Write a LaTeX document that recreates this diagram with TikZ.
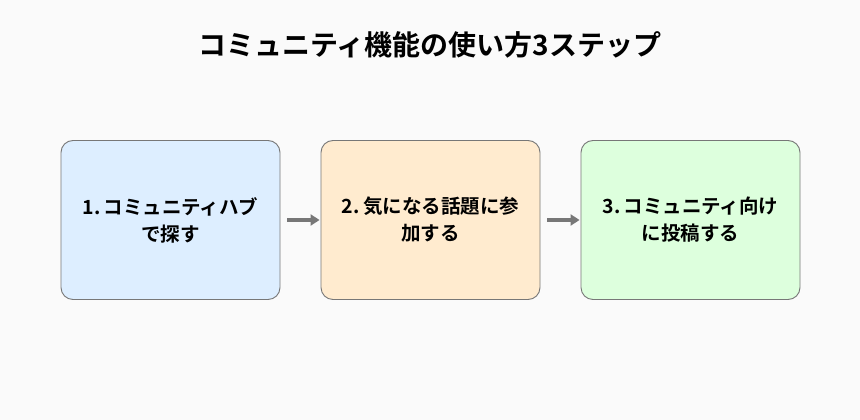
\documentclass[tikz,border=0pt]{standalone}
\usepackage{fontspec}
\setmainfont{Noto Sans CJK JP}[BoldFont={* Bold}]
\usetikzlibrary{arrows.meta}
\definecolor{bg}{HTML}{FAFAFA}
\definecolor{fa}{HTML}{DDEEFF}
\definecolor{fb}{HTML}{FFEBCF}
\definecolor{fc}{HTML}{DDFFDD}
\definecolor{bd}{HTML}{777777}
\begin{document}
\begin{tikzpicture}[x=1pt,y=1pt,
  box/.style={draw=bd,line width=0.9pt,rounded corners=12pt,minimum width=219pt,minimum height=159pt,align=center,font=\bfseries\fontsize{19.5}{27}\selectfont,text width=205pt},
  arr/.style={-{Triangle[length=9pt,width=11pt]},draw=bd,line width=3.5pt}]
\fill[bg] (0,0) rectangle (860,420);
\node[font=\bfseries\fontsize{28}{32}\selectfont] (t) at (430,375) {コミュニティ機能の使い方3ステップ};
\node[box,fill=fa] (a) at (170.5,200) {1.\,コミュニティハブ\\で探す};
\node[box,fill=fb] (b) at (430.5,200) {2.\,気になる話題に参\\加する};
\node[box,fill=fc] (c) at (690.5,200) {3.\,コミュニティ向け\\に投稿する};
\draw[arr] ([xshift=7pt]a.east) -- ([xshift=-1pt]b.west);
\draw[arr] ([xshift=7pt]b.east) -- ([xshift=-1pt]c.west);
\end{tikzpicture}
\end{document}
